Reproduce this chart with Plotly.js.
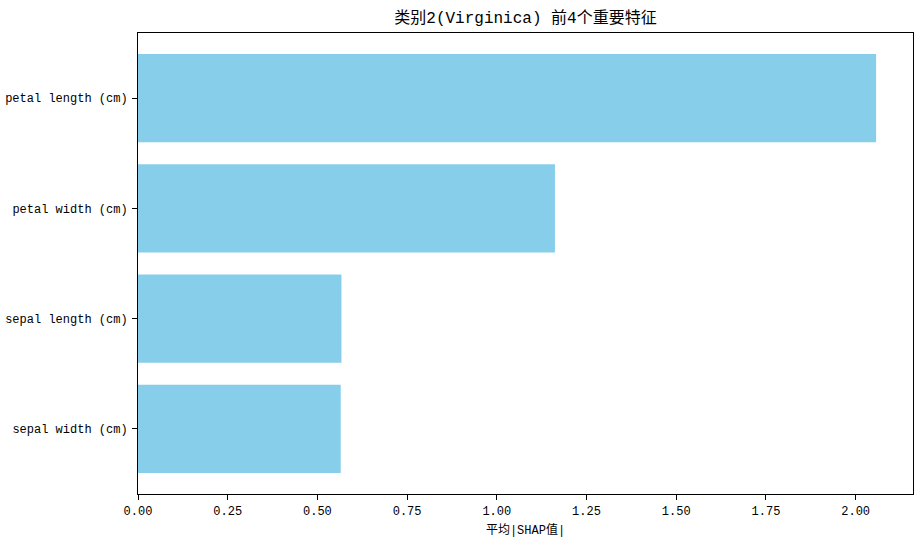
<!DOCTYPE html>
<html>
<head>
<meta charset="utf-8">
<script src="https://cdn.plot.ly/plotly-3.0.1.min.js"></script>
<style>
  html, body { margin: 0; padding: 0; background: #ffffff; }
  #chart { width: 923px; height: 546px; }
</style>
</head>
<body>
<div id="chart"></div>
<script>
// Mean |SHAP| per feature for class 2 (Virginica), bottom-to-top order
const features = ["sepal width (cm)", "sepal length (cm)", "petal width (cm)", "petal length (cm)"];
const meanAbsShap = [0.565, 0.567, 1.162, 2.057];
const xTickValues = [0, 0.25, 0.5, 0.75, 1.0, 1.25, 1.5, 1.75, 2.0];
const xTickLabels = ["0.00", "0.25", "0.50", "0.75", "1.00", "1.25", "1.50", "1.75", "2.00"];

const FONT = "'Liberation Mono', 'Noto Sans CJK SC', monospace";
const xMax = Math.max(...meanAbsShap) * 1.05;

const trace = {
  type: "bar",
  orientation: "h",
  x: meanAbsShap,
  y: features,
  width: 0.8,
  marker: { color: "#87CEEB", line: { width: 0 } },
  hoverinfo: "x+y"
};

const layout = {
  width: 923,
  height: 546,
  margin: { l: 138, r: 10, t: 33, b: 52, pad: 0 },
  paper_bgcolor: "#ffffff",
  plot_bgcolor: "#ffffff",
  showlegend: false,
  font: { family: FONT, size: 12, color: "#000000" },
  title: {
    text: "类别2(Virginica) 前4个重要特征",
    font: { family: FONT, size: 16, color: "#000000" },
    xref: "paper",
    x: 0.5,
    xanchor: "center",
    yref: "container",
    y: 1 - 17 / 546,
    yanchor: "middle"
  },
  xaxis: {
    range: [0, xMax],
    tickvals: xTickValues,
    ticktext: xTickLabels,
    ticks: "outside",
    ticklen: 5,
    tickwidth: 1,
    tickcolor: "#000000",
    showgrid: false,
    zeroline: false,
    showline: true,
    mirror: true,
    linecolor: "#000000",
    linewidth: 1,
    tickfont: { family: FONT, size: 12 },
    ticklabelstandoff: 1,
    title: {
      text: "平均|SHAP值|",
      font: { family: FONT, size: 12 },
      standoff: 7
    }
  },
  yaxis: {
    type: "category",
    categoryorder: "array",
    categoryarray: features,
    range: [-0.59, 3.59],
    ticks: "outside",
    ticklen: 5,
    tickwidth: 1,
    tickcolor: "#000000",
    showgrid: false,
    zeroline: false,
    showline: true,
    mirror: true,
    linecolor: "#000000",
    linewidth: 1,
    tickfont: { family: FONT, size: 12 },
    ticklabelstandoff: 2
  }
};

Plotly.newPlot("chart", [trace], layout, { displayModeBar: false, staticPlot: true });
</script>
</body>
</html>
